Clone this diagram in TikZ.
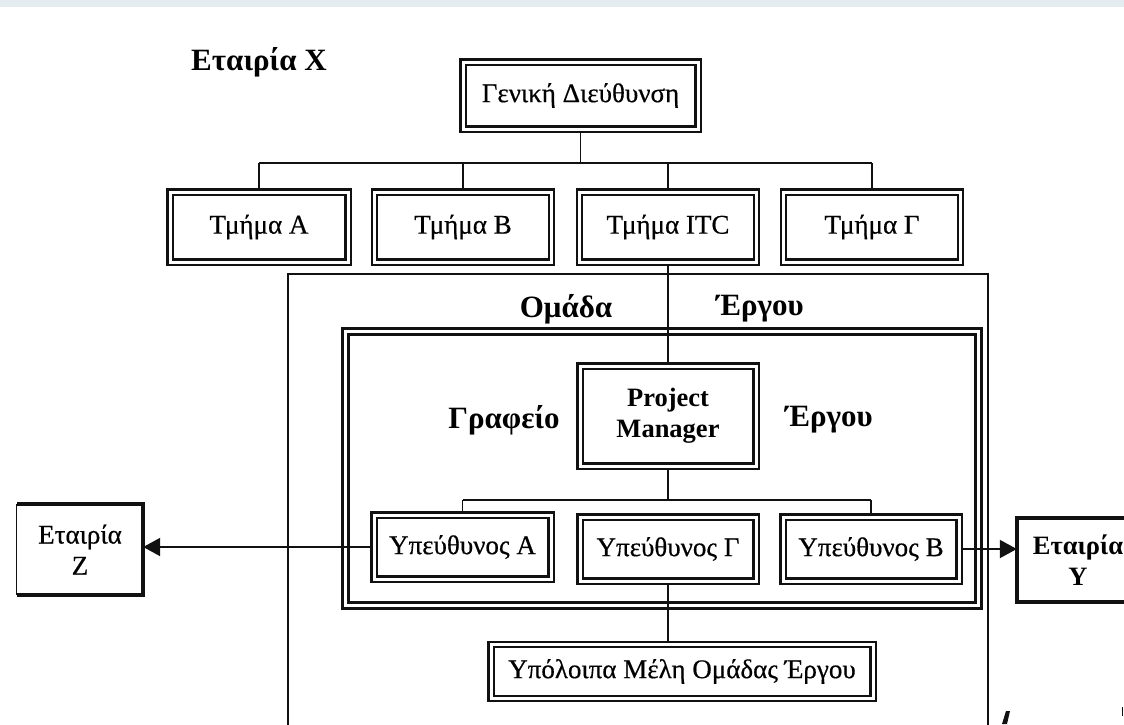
\documentclass[tikz,border=0pt]{standalone}
\usepackage{fontspec}
\setmainfont{Liberation Serif}
\newfontfamily\boxfamily{Liberation Serif}[FakeBold=0.5]
\usetikzlibrary{arrows.meta}
\definecolor{band}{HTML}{E4ECEF}
\definecolor{ink}{HTML}{111111}
\newcommand{\boxfont}{\boxfamily\fontsize{27}{31}\selectfont}
\newcommand{\pmfont}{\fontsize{26.5}{31}\selectfont\bfseries}
\newcommand{\headfont}{\fontsize{31}{36}\selectfont\bfseries}
\tikzset{
  x=1pt, y=-1pt,
  dbox/.style={draw=ink, double=white, line width=2.4pt, double distance=3pt,
    fill=white, inner sep=0pt, outer sep=3.9pt, align=center, font=\boxfont},
  frame/.style={draw=ink, double=white, line width=3pt, double distance=3pt},
  team/.style={draw=ink, line width=1.3pt},
  link/.style={draw=ink, line width=1.2pt},
  flow/.style={draw=ink, line width=2pt, -{Triangle[length=17pt,width=18pt]}},
  head/.style={font=\headfont, inner sep=0pt},
  firm/.style={inner sep=0pt, align=center, font=\boxfont},
}
\begin{document}
\begin{tikzpicture}
\useasboundingbox (0,0) rectangle (1124,724);
\clip (0,0) rectangle (1124,724);
\fill[white] (0,0) rectangle (1124,724);
\fill[band] (0,0) rectangle (1124,7);

% company headline
\node[head] (cx) at (259,62) {Εταιρία X};

% top management and departments
\node[dbox, minimum width=235pt, minimum height=67pt] (gd) at (580.5,95.5) {Γενική Διεύθυνση};
\node[dbox, minimum width=178pt, minimum height=70pt] (ta) at (259,227) {Τμήμα A};
\node[dbox, minimum width=177pt, minimum height=70pt] (tb) at (463,227) {Τμήμα B};
\node[dbox, minimum width=177pt, minimum height=70pt] (ti) at (668,227) {Τμήμα ITC};
\node[dbox, minimum width=177pt, minimum height=70pt] (tg) at (872,227) {Τμήμα Γ};

\coordinate (h1) at (580.5,163);
\draw[link] (gd.south) -- (h1);
\draw[link] (ta.north |- h1) -- (tg.north |- h1);
\foreach \n in {ta,tb,ti,tg} \draw[link] (\n.north |- h1) -- (\n.north);

% project team area
\draw[team] (288,740) -- (288,274) -- (988,274) -- (988,740);
\node[head] (om) at (566,309) {Ομάδα};
\node[head] (er1) at (760,309) {Έργου};

% project office frame
\draw[frame] (345.5,331.5) rectangle (978.5,605.5);
\node[head] (gr) at (504,420) {Γραφείο};
\node[head] (er2) at (829,420) {Έργου};

\node[dbox, font=\pmfont, minimum width=176pt, minimum height=100pt] (pm) at (668,416) {Project\\Manager};
\draw[link] (ti.south) -- (pm.north);

% responsible persons
\node[dbox, minimum width=177pt, minimum height=64pt] (ya) at (462.5,547) {Υπεύθυνος A};
\node[dbox, minimum width=176pt, minimum height=64pt] (yg) at (668,549) {Υπεύθυνος Γ};
\node[dbox, minimum width=176pt, minimum height=64pt] (yb) at (871,549) {Υπεύθυνος B};

\coordinate (h2) at (668,500);
\draw[link] (pm.south) -- (h2);
\draw[link] (ya.north |- h2) -- (yb.north |- h2);
\foreach \n in {ya,yb} \draw[link] (\n.north |- h2) -- (\n.north);

\node[dbox, minimum width=382pt, minimum height=54pt] (rest) at (682,671.5) {Υπόλοιπα Μέλη Ομάδας Έργου};
\draw[link] (yg.south) -- (yg.south |- rest.north);

% external companies
\node[firm, minimum width=126pt, minimum height=91pt] (ez) at (80,549.5) {Εταιρία\\Z};
\draw[line width=1.2pt, draw=ink] (ez.north west) -- (ez.south west);
\draw[line width=3.5pt, draw=ink, line join=miter] (ez.north west) -- (ez.north east) -- (ez.south east) -- (ez.south west);

\node[firm, font=\pmfont, minimum width=122pt, minimum height=84pt] (ey) at (1078,560) {Εταιρία\\Y};
\draw[line width=3.5pt, draw=ink, line join=miter] (ey.north east) -- (ey.north west) -- (ey.south west) -- (ey.south east);

\draw[flow] (ya.west) -- (ya.west -| ez.east);
\draw[flow] (yb.east) -- (yb.east -| ey.west);

% stray strokes along the lower edge
\fill[ink] (1002,724) -- (1006,711) -- (1010,711) -- (1007,724) -- cycle;
\draw[ink, line width=1pt] (1122.5,707) -- (1122.5,716);
\end{tikzpicture}
\end{document}
